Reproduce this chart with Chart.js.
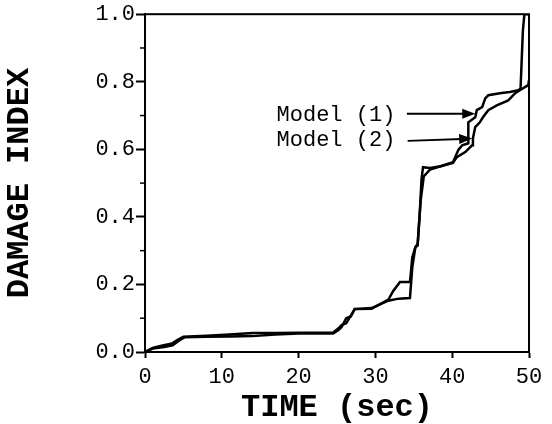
<!DOCTYPE html>
<html>
<head>
<meta charset="utf-8">
<script src="https://cdn.jsdelivr.net/npm/chart.js@4/dist/chart.umd.min.js"></script>
<style>
  html, body { margin: 0; padding: 0; background: #fff; }
  #wrap { width: 552px; height: 424px; }
</style>
</head>
<body>
<div id="wrap"><canvas id="c" width="552" height="424"></canvas></div>
<script>
// ---- data ----
const model1Time = [0, 1, 2, 3.5, 4.2, 5, 8, 11, 14, 17, 20, 24.5, 25.2, 25.6, 26.2, 26.6, 27.3, 29.5, 30.5, 31.7, 32.3, 33.2, 34.5, 34.8, 35.2, 35.5, 35.8, 36.0, 36.2, 37.1, 38.5, 40.1, 40.8, 41.3, 42.1, 42.1, 43.0, 43.2, 43.9, 44.3, 44.7, 46.2, 47.5, 48.6, 48.9, 49.2, 49.4, 50];
const model1Damage = [0, 0.012, 0.018, 0.025, 0.035, 0.045, 0.048, 0.052, 0.056, 0.056, 0.057, 0.058, 0.07, 0.08, 0.085, 0.10, 0.127, 0.13, 0.14, 0.155, 0.18, 0.207, 0.207, 0.28, 0.31, 0.315, 0.42, 0.51, 0.547, 0.545, 0.55, 0.562, 0.598, 0.612, 0.618, 0.68, 0.695, 0.716, 0.725, 0.751, 0.76, 0.766, 0.77, 0.775, 0.78, 0.95, 1.0, 1.0];

const model2Time = [0, 1, 2.5, 3.6, 4.5, 5.2, 8, 11, 14, 17, 20, 24.5, 25.2, 25.6, 26.2, 26.8, 27.3, 29.5, 30.5, 31.7, 33, 34.5, 34.8, 35.2, 35.5, 35.9, 36.3, 36.7, 37.1, 38.5, 40.1, 40.6, 41.7, 42.6, 42.7, 43.0, 43.6, 44.0, 44.7, 45.8, 47.3, 48.2, 48.8, 49.9, 50];
const model2Damage = [0, 0.01, 0.015, 0.02, 0.035, 0.044, 0.045, 0.046, 0.047, 0.052, 0.055, 0.055, 0.065, 0.074, 0.10, 0.105, 0.127, 0.128, 0.14, 0.152, 0.158, 0.16, 0.25, 0.31, 0.32, 0.45, 0.52, 0.53, 0.54, 0.55, 0.56, 0.577, 0.592, 0.612, 0.633, 0.666, 0.68, 0.695, 0.716, 0.73, 0.745, 0.766, 0.775, 0.79, 0.805];

const seriesNames = ['Model (1)', 'Model (2)'];
const xTicks = [0, 10, 20, 30, 40, 50];
const yTicks = [0.0, 0.2, 0.4, 0.6, 0.8, 1.0];
const yMinorTicks = [0.1, 0.3, 0.5, 0.7, 0.9];
const xTitle = 'TIME (sec)';
const yTitle = 'DAMAGE INDEX';

// annotation anchors (data units): label end, arrow tail, arrow head
const labelAnchors = [
  { text: seriesNames[0], lx: 32.6, ly: 0.70, tx: 34.1, ty: 0.705, hx: 43.0, hy: 0.705 },
  { text: seriesNames[1], lx: 32.6, ly: 0.628, tx: 34.2, ty: 0.625, hx: 42.6, hy: 0.632 }
];

const toPts = (xs, ys) => xs.map((x, i) => ({ x, y: ys[i] }));

const MONO = '"Liberation Mono", "Courier New", monospace';

const framePlugin = {
  id: 'frame',
  afterDraw(chart) {
    const { ctx, chartArea: a, scales } = chart;
    ctx.save();
    ctx.strokeStyle = '#000';
    ctx.lineWidth = 2;
    ctx.strokeRect(a.left, a.top, a.right - a.left, a.bottom - a.top);
    // minor y ticks
    ctx.lineWidth = 1.5;
    yMinorTicks.forEach(v => {
      const py = scales.y.getPixelForValue(v);
      ctx.beginPath();
      ctx.moveTo(a.left - 5, py);
      ctx.lineTo(a.left, py);
      ctx.stroke();
    });
    // annotations
    ctx.fillStyle = '#000';
    ctx.font = '22px ' + MONO;
    ctx.textAlign = 'right';
    ctx.textBaseline = 'middle';
    labelAnchors.forEach(l => {
      const lx = scales.x.getPixelForValue(l.lx), ly = scales.y.getPixelForValue(l.ly);
      ctx.fillText(l.text, lx, ly);
      const tx = scales.x.getPixelForValue(l.tx), ty = scales.y.getPixelForValue(l.ty);
      const hx = scales.x.getPixelForValue(l.hx), hy = scales.y.getPixelForValue(l.hy);
      const ang = Math.atan2(hy - ty, hx - tx);
      ctx.lineWidth = 2;
      ctx.beginPath();
      ctx.moveTo(tx, ty);
      ctx.lineTo(hx - 10 * Math.cos(ang), hy - 10 * Math.sin(ang));
      ctx.stroke();
      ctx.beginPath();
      ctx.moveTo(hx, hy);
      ctx.lineTo(hx - 13 * Math.cos(ang) + 5 * Math.sin(ang), hy - 13 * Math.sin(ang) - 5 * Math.cos(ang));
      ctx.lineTo(hx - 13 * Math.cos(ang) - 5 * Math.sin(ang), hy - 13 * Math.sin(ang) + 5 * Math.cos(ang));
      ctx.closePath();
      ctx.fill();
    });
    ctx.restore();
  }
};

new Chart(document.getElementById('c'), {
  type: 'line',
  data: {
    datasets: [
      { label: seriesNames[0], data: toPts(model1Time, model1Damage), borderColor: '#000', borderWidth: 2.5, pointRadius: 0, tension: 0, fill: false },
      { label: seriesNames[1], data: toPts(model2Time, model2Damage), borderColor: '#000', borderWidth: 2.5, pointRadius: 0, tension: 0, fill: false }
    ]
  },
  options: {
    responsive: false,
    animation: false,
    devicePixelRatio: 1,
    layout: { padding: { top: 13, right: 23, left: 0, bottom: 0 } },
    plugins: { legend: { display: false }, tooltip: { enabled: false } },
    scales: {
      x: {
        type: 'linear', min: 0, max: 50,
        afterBuildTicks: s => { s.ticks = xTicks.map(v => ({ value: v })); },
        afterFit: s => { s.height = 72; },
        grid: { drawOnChartArea: false, drawTicks: true, tickLength: 6, tickWidth: 2, tickColor: '#000' },
        border: { display: true, color: '#000', width: 2 },
        ticks: { color: '#000', font: { family: MONO, size: 22 }, padding: 6, maxRotation: 0, callback: v => String(v) },
        title: { display: true, text: xTitle, color: '#000', font: { family: MONO, size: 32, weight: 'bold', lineHeight: 1 }, padding: { top: 0, bottom: 0 } }
      },
      y: {
        type: 'linear', min: 0, max: 1,
        afterBuildTicks: s => { s.ticks = yTicks.map(v => ({ value: v })); },
        afterFit: s => { s.width = 145; },
        grid: { drawOnChartArea: false, drawTicks: true, tickLength: 9, tickWidth: 2, tickColor: '#000' },
        border: { display: true, color: '#000', width: 2 },
        ticks: { color: '#000', font: { family: MONO, size: 22 }, padding: 1, callback: v => Number(v).toFixed(1) },
        title: { display: true, text: yTitle, color: '#000', font: { family: MONO, size: 32, weight: 'bold', lineHeight: 1 }, padding: { top: 4, bottom: 0 } }
      }
    }
  },
  plugins: [framePlugin]
});
</script>
</body>
</html>
